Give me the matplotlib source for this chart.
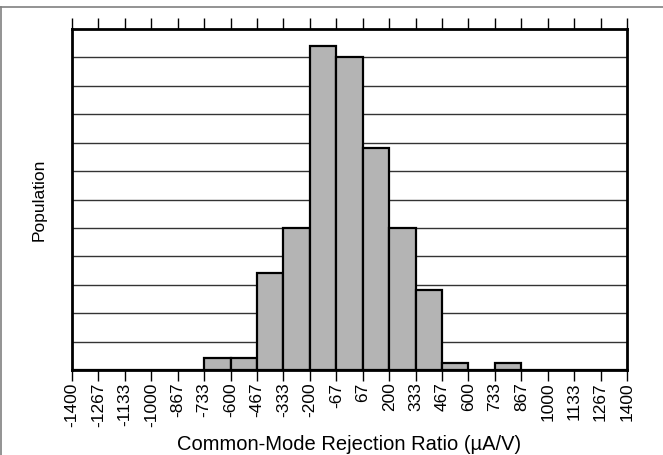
import numpy as np
import matplotlib
matplotlib.use("Agg")
import matplotlib.pyplot as plt
from matplotlib.lines import Line2D

plt.rcParams['font.family'] = ['Liberation Sans', 'DejaVu Sans']

# bin edges in uA/V and bar heights in grid units
bin_edges = np.linspace(-1400, 1400, 22)
tick_labels = ['-1400', '-1267', '-1133', '-1000', '-867', '-733', '-600', '-467',
               '-333', '-200', '-67', '67', '200', '333', '467', '600', '733',
               '867', '1000', '1133', '1267', '1400']
population = [0, 0, 0, 0, 0, 0.41, 0.41, 3.43, 5.0, 11.41, 11.03, 7.81,
              5.0, 2.82, 0.23, 0, 0.23, 0, 0, 0, 0]

fig = plt.figure(figsize=(6.63, 4.55), dpi=100)
ax = fig.add_axes([72/663, 1 - 370/455, 555/663, 341/455])

ax.bar(bin_edges[:-1], population, width=np.diff(bin_edges), align='edge',
       color='#b4b4b4', edgecolor='black', linewidth=1.6, zorder=3)

ax.set_xlim(-1400, 1400)
ax.set_ylim(0, 12)
ax.set_yticks(np.arange(1, 12))
ax.yaxis.grid(True, color='#333333', linewidth=1.0, zorder=0)
ax.tick_params(axis='y', left=False, labelleft=False)

ax.set_xticks(bin_edges)
ax.set_xticklabels(tick_labels, rotation=90, fontsize=12.5)
ax.tick_params(axis='x', direction='out', length=8, width=1, color='black',
               top=True, labeltop=False, pad=1)

for s in ax.spines.values():
    s.set_linewidth(2)
    s.set_zorder(4)

ax.set_xlabel('Common-Mode Rejection Ratio (\u00b5A/V)', fontsize=14.5, labelpad=6)
ax.set_ylabel('Population', fontsize=12.5, labelpad=18)

# outer frame (top and left edges visible)
fig.add_artist(Line2D([0, 1], [1 - 7/455, 1 - 7/455], transform=fig.transFigure,
                      color='#808080', linewidth=1.2))
fig.add_artist(Line2D([1/663, 1/663], [0, 1 - 7/455], transform=fig.transFigure,
                      color='#808080', linewidth=1.2))

fig.savefig('out.png', dpi=100)
